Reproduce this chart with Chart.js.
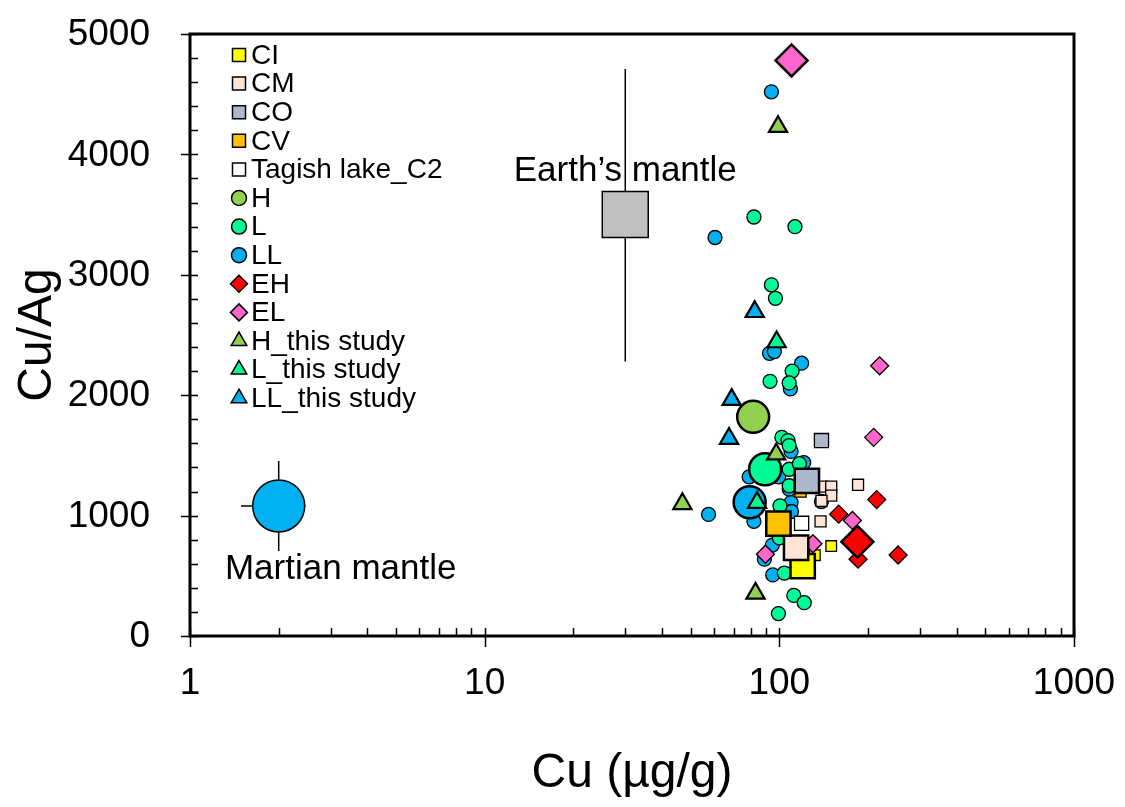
<!DOCTYPE html>
<html>
<head>
<meta charset="utf-8">
<script src="https://cdn.jsdelivr.net/npm/chart.js@4.4.1/dist/chart.umd.min.js"></script>
<style>
  body { margin: 0; background: #fff; }
</style>
</head>
<body>
<canvas id="myChart" width="1125" height="807"></canvas>
<script>
// Cu (µg/g) and Cu/Ag ratio, one pair of arrays per group
const ci_cu = [150, 132];
const ci_ratio = [747, 671];
const cm_cu = [139, 150, 150, 139, 185, 138];
const cm_ratio = [1240, 1240, 1166, 1122, 1256, 952];
const co_cu = [139];
const co_ratio = [1623];
const cv_cu = [118];
const cv_ratio = [1200];
const tagish_cu = [119];
const tagish_ratio = [936];
const l_cu = [82, 113, 94, 97, 110.5, 93, 108, 102, 107, 108, 108, 117, 108, 100.5, 100, 104, 112, 121.5, 99.3];
const l_ratio = [3480, 3400, 2917, 2805, 2200, 2115, 2102, 1650, 1623, 1582, 1385, 1431, 1248, 1081, 815, 523, 337, 277, 186];
const ll_cu = [94, 60.5, 92.6, 96.2, 119, 109, 109.6, 121, 79, 99.5, 108, 57.5, 139, 109.6, 110, 82, 94.7, 89, 95];
const ll_ratio = [4520, 3310, 2348, 2362, 2266, 2052, 1533, 1440, 1322, 1322, 1220, 1010, 1117, 1108, 1034, 952, 755, 638, 507];
const eh_cu = [159, 214, 185, 253];
const eh_ratio = [1012, 1133, 638, 673];
const el_cu = [219, 209, 177, 130, 89.7];
const el_ratio = [2244, 1650, 960, 766, 679];
const h_this_cu = [99, 97.6, 46.9, 83];
const h_this_ratio = [4230, 1510, 1098, 354];
const l_this_cu = [97.9, 84];
const l_this_ratio = [2442, 1107];
const ll_this_cu = [82.5, 68.9, 67.5];
const ll_this_ratio = [2693, 1963, 1640];

// group averages (big symbols)
const mean_groups = ['CI', 'CM', 'CO', 'CV', 'H', 'L', 'LL', 'EH', 'EL'];
const mean_cu = [120, 114, 124, 99.3, 81.5, 89.5, 79.3, 184, 110];
const mean_ratio = [580, 733, 1289, 933, 1820, 1385, 1111, 782, 4780];

// reservoirs
const earth_cu = [30];
const earth_ratio = [3500];
const earth_ratio_range = [2280, 4710];
const mars_cu = [2];
const mars_ratio = [1080];
const mars_cu_range = [1.49, 2.47];
const mars_ratio_range = [706, 1453];

// axis ticks
const x_labels = [1, 10, 100, 1000];
const y_labels = [0, 1000, 2000, 3000, 4000, 5000];

const FONT = 'Arial, "Liberation Sans", sans-serif';

// symbol per group
const style = {
    'CI': { shape: 'rect', color: '#FFFF00' },
    'CM': { shape: 'rect', color: '#FCE4D6' },
    'CO': { shape: 'rect', color: '#ADB9CA' },
    'CV': { shape: 'rect', color: '#FFC000' },
    'Tagish lake_C2': { shape: 'rect', color: '#FFFFFF' },
    'H': { shape: 'circle', color: '#92D050' },
    'L': { shape: 'circle', color: '#00FA96' },
    'LL': { shape: 'circle', color: '#00B0F0' },
    'EH': { shape: 'rectRot', color: '#FF0000' },
    'EL': { shape: 'rectRot', color: '#FF66CC' },
    'H_this study': { shape: 'triangle', color: '#92D050' },
    'L_this study': { shape: 'triangle', color: '#00FA96' },
    'LL_this study': { shape: 'triangle', color: '#00B0F0' },
};
const legendOrder = Object.keys(style);

function pts(xs, ys) {
    return xs.map((x, i) => ({ x: x, y: ys[i] }));
}

function ds(name, xs, ys, radius, order, border) {
    return {
        label: name,
        data: pts(xs, ys),
        pointStyle: style[name].shape,
        backgroundColor: style[name].color,
        borderColor: '#000',
        borderWidth: border || 1.3,
        pointRadius: radius,
        order: order,
    };
}

const meanRadius = { rect: 17.2, circle: 16, rectRot: 16 };

const datasets = [
    ds('LL', ll_cu, ll_ratio, 7, 6),
    ds('L', l_cu, l_ratio, 7, 5),
    ds('CI', ci_cu, ci_ratio, 7.5, 4),
    ds('CM', cm_cu, cm_ratio, 7.8, 4),
    ds('CO', co_cu, co_ratio, 10, 4),
    ds('CV', cv_cu, cv_ratio, 8, 4),
    ds('Tagish lake_C2', tagish_cu, tagish_ratio, 10, 4),
    ds('EH', eh_cu, eh_ratio, 9, 3),
    ds('EL', el_cu, el_ratio, 9, 3),
    {
        label: 'mean',
        data: pts(mean_cu, mean_ratio),
        pointStyle: mean_groups.map(g => style[g].shape),
        backgroundColor: mean_groups.map(g => style[g].color),
        pointRadius: mean_groups.map(g => meanRadius[style[g].shape]),
        borderColor: '#000',
        borderWidth: 2.5,
        order: 2,
    },
    {
        label: 'Earth mantle',
        data: pts(earth_cu, earth_ratio),
        pointStyle: 'rect',
        backgroundColor: '#C0C0C0',
        borderColor: '#000',
        borderWidth: 1.5,
        pointRadius: 32.5,
        order: 2,
    },
    {
        label: 'Martian mantle',
        data: pts(mars_cu, mars_ratio),
        pointStyle: 'circle',
        backgroundColor: '#00B0F0',
        borderColor: '#000',
        borderWidth: 1.5,
        pointRadius: 26,
        order: 2,
    },
    ds('H_this study', h_this_cu, h_this_ratio, 10.5, 1, 2.2),
    ds('L_this study', l_this_cu, l_this_ratio, 10.5, 1, 2.2),
    ds('LL_this study', ll_this_cu, ll_this_ratio, 10.5, 1, 2.2),
];

function drawShape(ctx, shape, x, y, r) {
    ctx.beginPath();
    if (shape === 'circle') {
        ctx.arc(x, y, r, 0, Math.PI * 2);
    } else if (shape === 'rect') {
        const s = r * Math.SQRT1_2;
        ctx.rect(x - s, y - s, 2 * s, 2 * s);
    } else if (shape === 'rectRot') {
        ctx.moveTo(x - r, y); ctx.lineTo(x, y - r); ctx.lineTo(x + r, y); ctx.lineTo(x, y + r);
        ctx.closePath();
    } else if (shape === 'triangle') {
        ctx.moveTo(x, y - r);
        ctx.lineTo(x + r * Math.sin(2 * Math.PI / 3), y - r * Math.cos(2 * Math.PI / 3));
        ctx.lineTo(x + r * Math.sin(4 * Math.PI / 3), y - r * Math.cos(4 * Math.PI / 3));
        ctx.closePath();
    }
    ctx.fill();
    ctx.stroke();
}

// error bars for the two mantle reservoirs, under the symbols
const errorBars = {
    id: 'errorBars',
    beforeDatasetsDraw(chart) {
        const ctx = chart.ctx, xs = chart.scales.x, ys = chart.scales.y;
        ctx.save();
        ctx.strokeStyle = '#000';
        ctx.lineWidth = 1.5;
        const ex = xs.getPixelForValue(earth_cu[0]);
        ctx.beginPath();
        ctx.moveTo(ex, ys.getPixelForValue(earth_ratio_range[0]));
        ctx.lineTo(ex, ys.getPixelForValue(earth_ratio_range[1]));
        ctx.stroke();
        const mx = xs.getPixelForValue(mars_cu[0]);
        const my = ys.getPixelForValue(mars_ratio[0]);
        ctx.beginPath();
        ctx.moveTo(mx, ys.getPixelForValue(mars_ratio_range[0]));
        ctx.lineTo(mx, ys.getPixelForValue(mars_ratio_range[1]));
        ctx.moveTo(xs.getPixelForValue(mars_cu_range[0]), my);
        ctx.lineTo(xs.getPixelForValue(mars_cu_range[1]), my);
        ctx.stroke();
        ctx.restore();
    }
};

// frame, ticks, tick labels, annotations and legend
const decorations = {
    id: 'decorations',
    afterDraw(chart) {
        const ctx = chart.ctx, xs = chart.scales.x, ys = chart.scales.y;
        const a = chart.chartArea;
        ctx.save();
        ctx.strokeStyle = '#000';
        ctx.lineWidth = 3;
        ctx.strokeRect(a.left, a.top, a.right - a.left, a.bottom - a.top);

        ctx.lineWidth = 1.5;
        ctx.beginPath();
        for (let d = 1; d < 1000; d *= 10) {
            for (let m = 2; m <= 9; m++) {
                const px = Math.round(xs.getPixelForValue(m * d)) + 0.5;
                ctx.moveTo(px, a.bottom);
                ctx.lineTo(px, a.bottom - 8);
            }
        }
        x_labels.forEach(v => {
            const px = Math.round(xs.getPixelForValue(v)) + 0.5;
            ctx.moveTo(px, a.bottom - 8);
            ctx.lineTo(px, a.bottom + 11);
        });
        for (let v = 0; v <= 5000; v += 200) {
            const py = Math.round(ys.getPixelForValue(v)) + 0.5;
            ctx.moveTo(v % 1000 === 0 ? a.left - 9 : a.left, py);
            ctx.lineTo(a.left + 8, py);
        }
        ctx.stroke();

        // tick labels
        ctx.fillStyle = '#000';
        ctx.font = '37px ' + FONT;
        ctx.textBaseline = 'middle';
        ctx.textAlign = 'center';
        x_labels.forEach(v => ctx.fillText(String(v), xs.getPixelForValue(v), a.bottom + 48));
        ctx.textAlign = 'right';
        y_labels.forEach(v => ctx.fillText(String(v), a.left - 40, ys.getPixelForValue(v) + 1));

        // annotations
        ctx.font = '35px ' + FONT;
        ctx.textAlign = 'center';
        const ex = xs.getPixelForValue(earth_cu[0]);
        const ey = ys.getPixelForValue(earth_ratio[0]);
        ctx.fillText('Earth\u2019s mantle', ex, ey - 43);
        const mx = xs.getPixelForValue(mars_cu[0]);
        const my = ys.getPixelForValue(mars_ratio[0]);
        ctx.fillText('Martian mantle', mx + 62, my + 63);

        // legend
        ctx.font = '28px ' + FONT;
        ctx.textAlign = 'left';
        const legR = { rect: 9.2, circle: 7.5, rectRot: 8.5, triangle: 9 };
        legendOrder.forEach((name, i) => {
            const y = a.top + 21 + i * 28.6;
            ctx.fillStyle = style[name].color;
            ctx.strokeStyle = '#000';
            ctx.lineWidth = 1.5;
            drawShape(ctx, style[name].shape, a.left + 49, y, legR[style[name].shape]);
            ctx.fillStyle = '#000';
            ctx.fillText(name, a.left + 61, y + 1);
        });
        ctx.restore();
    }
};

const ctx = document.getElementById('myChart').getContext('2d');
const myChart = new Chart(ctx, {
    type: 'scatter',
    data: { datasets: datasets },
    options: {
        responsive: false,
        animation: false,
        layout: { padding: { top: 27, right: 51, left: 0, bottom: 0 } },
        plugins: {
            legend: { display: false },
            tooltip: { enabled: false },
        },
        scales: {
            x: {
                type: 'logarithmic',
                min: 1,
                max: 1000,
                grid: { display: false, drawTicks: false },
                border: { display: false },
                afterFit: s => { s.height = 171; },
                ticks: { display: false },
                title: {
                    display: true,
                    text: 'Cu (µg/g)',
                    color: '#000',
                    font: { family: FONT, size: 48 },
                    padding: { top: 0, bottom: 4 },
                },
            },
            y: {
                min: 0,
                max: 5000,
                grid: { display: false, drawTicks: false },
                border: { display: false },
                afterFit: s => { s.width = 190; },
                ticks: { display: false },
                title: {
                    display: true,
                    text: 'Cu/Ag',
                    color: '#000',
                    font: { family: FONT, size: 48 },
                    padding: { top: 9, bottom: 0 },
                },
            },
        },
    },
    plugins: [errorBars, decorations],
});
</script>
</body>
</html>
